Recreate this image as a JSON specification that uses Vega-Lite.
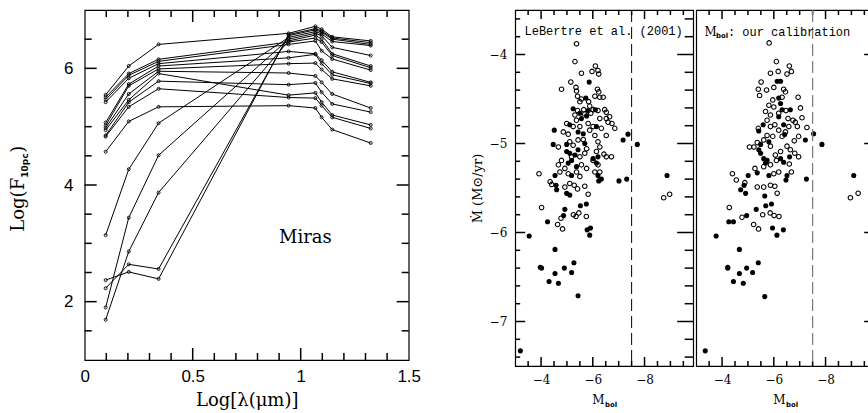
{
"$schema": "https://vega.github.io/schema/vega-lite/v6.json",
"background": "white",
"padding": {"left": 8.7, "top": 8, "right": 0, "bottom": 0},
"spacing": 48.5,
"config": {"view": {"stroke": "black", "strokeWidth": 1.2}, "axis": {"domain": false, "grid": false, "ticks": false, "labelColor": "black", "titleColor": "black", "labelFlush": false, "labelOverlap": false, "labelBound": false}},
"resolve": {"scale": {"x": "independent", "y": "independent"}},
"datasets": {
"mv": [
{"v":0.1,"a":1,"b":1.12},{"v":0.1,"a":7,"b":6.88},{"v":0.2,"a":1,"b":1.12},{"v":0.2,"a":7,"b":6.88},{"v":0.3,"a":1,"b":1.12},{"v":0.3,"a":7,"b":6.88},{"v":0.4,"a":1,"b":1.12},{"v":0.4,"a":7,"b":6.88},
{"v":0.5,"a":1,"b":1.206},{"v":0.5,"a":7,"b":6.794},
{"v":0.6,"a":1,"b":1.12},{"v":0.6,"a":7,"b":6.88},{"v":0.7,"a":1,"b":1.12},{"v":0.7,"a":7,"b":6.88},{"v":0.8,"a":1,"b":1.12},{"v":0.8,"a":7,"b":6.88},{"v":0.9,"a":1,"b":1.12},{"v":0.9,"a":7,"b":6.88},
{"v":1.0,"a":1,"b":1.206},{"v":1.0,"a":7,"b":6.794},
{"v":1.1,"a":1,"b":1.12},{"v":1.1,"a":7,"b":6.88},{"v":1.2,"a":1,"b":1.12},{"v":1.2,"a":7,"b":6.88},{"v":1.3,"a":1,"b":1.12},{"v":1.3,"a":7,"b":6.88},{"v":1.4,"a":1,"b":1.12},{"v":1.4,"a":7,"b":6.88}
],
"mh": [
{"v":1.5,"a":0,"b":0.0324},{"v":1.5,"a":1.5,"b":1.4676},
{"v":2,"a":0,"b":0.0556},{"v":2,"a":1.5,"b":1.4444},
{"v":2.5,"a":0,"b":0.0324},{"v":2.5,"a":1.5,"b":1.4676},{"v":3,"a":0,"b":0.0324},{"v":3,"a":1.5,"b":1.4676},{"v":3.5,"a":0,"b":0.0324},{"v":3.5,"a":1.5,"b":1.4676},
{"v":4,"a":0,"b":0.0556},{"v":4,"a":1.5,"b":1.4444},
{"v":4.5,"a":0,"b":0.0324},{"v":4.5,"a":1.5,"b":1.4676},{"v":5,"a":0,"b":0.0324},{"v":5,"a":1.5,"b":1.4676},{"v":5.5,"a":0,"b":0.0324},{"v":5.5,"a":1.5,"b":1.4676},
{"v":6,"a":0,"b":0.0556},{"v":6,"a":1.5,"b":1.4444},
{"v":6.5,"a":0,"b":0.0324},{"v":6.5,"a":1.5,"b":1.4676}
],
"rv": [
{"v":-3.5,"a":-7.5,"b":-7.444},{"v":-3.5,"a":-3.5,"b":-3.556},
{"v":-4,"a":-7.5,"b":-7.399},{"v":-4,"a":-3.5,"b":-3.601},
{"v":-4.5,"a":-7.5,"b":-7.444},{"v":-4.5,"a":-3.5,"b":-3.556},{"v":-5,"a":-7.5,"b":-7.444},{"v":-5,"a":-3.5,"b":-3.556},{"v":-5.5,"a":-7.5,"b":-7.444},{"v":-5.5,"a":-3.5,"b":-3.556},
{"v":-6,"a":-7.5,"b":-7.399},{"v":-6,"a":-3.5,"b":-3.601},
{"v":-6.5,"a":-7.5,"b":-7.444},{"v":-6.5,"a":-3.5,"b":-3.556},{"v":-7,"a":-7.5,"b":-7.444},{"v":-7,"a":-3.5,"b":-3.556},{"v":-7.5,"a":-7.5,"b":-7.444},{"v":-7.5,"a":-3.5,"b":-3.556},
{"v":-8,"a":-7.5,"b":-7.399},{"v":-8,"a":-3.5,"b":-3.601},
{"v":-8.5,"a":-7.5,"b":-7.444},{"v":-8.5,"a":-3.5,"b":-3.556},{"v":-9,"a":-7.5,"b":-7.444},{"v":-9,"a":-3.5,"b":-3.556},{"v":-9.5,"a":-7.5,"b":-7.444},{"v":-9.5,"a":-3.5,"b":-3.556}
],
"rh1": [
{"v":-3.6,"a":-3,"b":-3.1933},{"v":-3.6,"a":-9.88,"b":-9.5515},{"v":-3.8,"a":-3,"b":-3.1933},{"v":-3.8,"a":-9.88,"b":-9.5515},
{"v":-4,"a":-3,"b":-3.3865},{"v":-4,"a":-9.88,"b":-9.2616},
{"v":-4.2,"a":-3,"b":-3.1933},{"v":-4.2,"a":-9.88,"b":-9.5515},{"v":-4.4,"a":-3,"b":-3.1933},{"v":-4.4,"a":-9.88,"b":-9.5515},{"v":-4.6,"a":-3,"b":-3.1933},{"v":-4.6,"a":-9.88,"b":-9.5515},{"v":-4.8,"a":-3,"b":-3.1933},{"v":-4.8,"a":-9.88,"b":-9.5515},
{"v":-5,"a":-3,"b":-3.3865},{"v":-5,"a":-9.88,"b":-9.2616},
{"v":-5.2,"a":-3,"b":-3.1933},{"v":-5.2,"a":-9.88,"b":-9.5515},{"v":-5.4,"a":-3,"b":-3.1933},{"v":-5.4,"a":-9.88,"b":-9.5515},{"v":-5.6,"a":-3,"b":-3.1933},{"v":-5.6,"a":-9.88,"b":-9.5515},{"v":-5.8,"a":-3,"b":-3.1933},{"v":-5.8,"a":-9.88,"b":-9.5515},
{"v":-6,"a":-3,"b":-3.3865},{"v":-6,"a":-9.88,"b":-9.2616},
{"v":-6.2,"a":-3,"b":-3.1933},{"v":-6.2,"a":-9.88,"b":-9.5515},{"v":-6.4,"a":-3,"b":-3.1933},{"v":-6.4,"a":-9.88,"b":-9.5515},{"v":-6.6,"a":-3,"b":-3.1933},{"v":-6.6,"a":-9.88,"b":-9.5515},{"v":-6.8,"a":-3,"b":-3.1933},{"v":-6.8,"a":-9.88,"b":-9.5515},
{"v":-7,"a":-3,"b":-3.3865},{"v":-7,"a":-9.88,"b":-9.2616},
{"v":-7.2,"a":-3,"b":-3.1933},{"v":-7.2,"a":-9.88,"b":-9.5515},{"v":-7.4,"a":-3,"b":-3.1933},{"v":-7.4,"a":-9.88,"b":-9.5515}
],
"rh2": [
{"v":-3.6,"a":-9.88,"b":-9.6867},{"v":-3.8,"a":-9.88,"b":-9.6867},{"v":-4,"a":-9.88,"b":-9.4935},{"v":-4.2,"a":-9.88,"b":-9.6867},{"v":-4.4,"a":-9.88,"b":-9.6867},{"v":-4.6,"a":-9.88,"b":-9.6867},{"v":-4.8,"a":-9.88,"b":-9.6867},{"v":-5,"a":-9.88,"b":-9.4935},{"v":-5.2,"a":-9.88,"b":-9.6867},{"v":-5.4,"a":-9.88,"b":-9.6867},{"v":-5.6,"a":-9.88,"b":-9.6867},{"v":-5.8,"a":-9.88,"b":-9.6867},{"v":-6,"a":-9.88,"b":-9.4935},{"v":-6.2,"a":-9.88,"b":-9.6867},{"v":-6.4,"a":-9.88,"b":-9.6867},{"v":-6.6,"a":-9.88,"b":-9.6867},{"v":-6.8,"a":-9.88,"b":-9.6867},{"v":-7,"a":-9.88,"b":-9.4935},{"v":-7.2,"a":-9.88,"b":-9.6867},{"v":-7.4,"a":-9.88,"b":-9.6867}
],
"miras": [
{"c":"F","lx":0.097,"ly":5.545},{"c":"F","lx":0.204,"ly":6.04},{"c":"F","lx":0.342,"ly":6.41},{"c":"F","lx":0.944,"ly":6.60},{"c":"F","lx":1.068,"ly":6.72},{"c":"F","lx":1.097,"ly":6.67},{"c":"F","lx":1.146,"ly":6.54},{"c":"F","lx":1.324,"ly":6.47},
{"c":"E","lx":0.097,"ly":2.37},{"c":"E","lx":0.204,"ly":2.51},{"c":"E","lx":0.342,"ly":2.39},{"c":"E","lx":0.944,"ly":6.58},{"c":"E","lx":1.068,"ly":6.68},{"c":"E","lx":1.097,"ly":6.64},{"c":"E","lx":1.146,"ly":6.52},{"c":"E","lx":1.324,"ly":6.44},
{"c":"D","lx":0.097,"ly":2.23},{"c":"D","lx":0.204,"ly":2.64},{"c":"D","lx":0.342,"ly":2.56},{"c":"D","lx":0.944,"ly":6.56},{"c":"D","lx":1.068,"ly":6.66},{"c":"D","lx":1.097,"ly":6.62},{"c":"D","lx":1.146,"ly":6.50},{"c":"D","lx":1.324,"ly":6.41},
{"c":"A","lx":0.097,"ly":3.14},{"c":"A","lx":0.204,"ly":4.27},{"c":"A","lx":0.342,"ly":5.06},{"c":"A","lx":0.944,"ly":6.53},{"c":"A","lx":1.068,"ly":6.63},{"c":"A","lx":1.097,"ly":6.59},{"c":"A","lx":1.146,"ly":6.46},{"c":"A","lx":1.324,"ly":6.39},
{"c":"B","lx":0.097,"ly":1.90},{"c":"B","lx":0.204,"ly":3.44},{"c":"B","lx":0.342,"ly":4.51},{"c":"B","lx":0.944,"ly":6.50},{"c":"B","lx":1.068,"ly":6.60},{"c":"B","lx":1.097,"ly":6.56},{"c":"B","lx":1.146,"ly":6.36},{"c":"B","lx":1.324,"ly":6.22},
{"c":"C","lx":0.097,"ly":1.69},{"c":"C","lx":0.204,"ly":2.86},{"c":"C","lx":0.342,"ly":3.87},{"c":"C","lx":0.944,"ly":6.47},{"c":"C","lx":1.068,"ly":6.57},{"c":"C","lx":1.097,"ly":6.50},{"c":"C","lx":1.146,"ly":6.25},{"c":"C","lx":1.324,"ly":6.04},
{"c":"G","lx":0.097,"ly":5.505},{"c":"G","lx":0.204,"ly":5.91},{"c":"G","lx":0.342,"ly":6.155},{"c":"G","lx":0.944,"ly":6.45},{"c":"G","lx":1.068,"ly":6.52},{"c":"G","lx":1.097,"ly":6.45},{"c":"G","lx":1.146,"ly":6.22},{"c":"G","lx":1.324,"ly":6.01},
{"c":"H","lx":0.097,"ly":5.465},{"c":"H","lx":0.204,"ly":5.88},{"c":"H","lx":0.342,"ly":6.12},{"c":"H","lx":0.944,"ly":6.41},{"c":"H","lx":1.068,"ly":6.47},{"c":"H","lx":1.097,"ly":6.30},{"c":"H","lx":1.146,"ly":6.16},{"c":"H","lx":1.324,"ly":5.97},
{"c":"I","lx":0.097,"ly":5.42},{"c":"I","lx":0.204,"ly":5.83},{"c":"I","lx":0.342,"ly":6.08},{"c":"I","lx":0.944,"ly":6.29},{"c":"I","lx":1.068,"ly":6.25},{"c":"I","lx":1.097,"ly":6.14},{"c":"I","lx":1.146,"ly":5.94},{"c":"I","lx":1.324,"ly":5.76},
{"c":"J","lx":0.097,"ly":5.07},{"c":"J","lx":0.204,"ly":5.73},{"c":"J","lx":0.342,"ly":6.04},{"c":"J","lx":0.944,"ly":6.18},{"c":"J","lx":1.068,"ly":6.24},{"c":"J","lx":1.097,"ly":6.08},{"c":"J","lx":1.146,"ly":5.89},{"c":"J","lx":1.324,"ly":5.74},
{"c":"K","lx":0.097,"ly":5.02},{"c":"K","lx":0.204,"ly":5.70},{"c":"K","lx":0.342,"ly":5.99},{"c":"K","lx":0.944,"ly":6.08},{"c":"K","lx":1.068,"ly":6.09},{"c":"K","lx":1.097,"ly":5.98},{"c":"K","lx":1.146,"ly":5.82},{"c":"K","lx":1.324,"ly":5.70},
{"c":"L","lx":0.097,"ly":4.98},{"c":"L","lx":0.204,"ly":5.56},{"c":"L","lx":0.342,"ly":5.95},{"c":"L","lx":0.944,"ly":5.92},{"c":"L","lx":1.068,"ly":5.87},{"c":"L","lx":1.097,"ly":5.76},{"c":"L","lx":1.146,"ly":5.56},{"c":"L","lx":1.324,"ly":5.32},
{"c":"M","lx":0.097,"ly":4.94},{"c":"M","lx":0.204,"ly":5.46},{"c":"M","lx":0.342,"ly":5.91},{"c":"M","lx":0.944,"ly":5.54},{"c":"M","lx":1.068,"ly":5.58},{"c":"M","lx":1.097,"ly":5.42},{"c":"M","lx":1.146,"ly":5.20},{"c":"M","lx":1.324,"ly":5.03},
{"c":"N","lx":0.097,"ly":4.85},{"c":"N","lx":0.204,"ly":5.42},{"c":"N","lx":0.342,"ly":5.78},{"c":"N","lx":0.944,"ly":5.72},{"c":"N","lx":1.068,"ly":5.75},{"c":"N","lx":1.097,"ly":5.59},{"c":"N","lx":1.146,"ly":5.39},{"c":"N","lx":1.324,"ly":5.25},
{"c":"O","lx":0.097,"ly":4.83},{"c":"O","lx":0.204,"ly":5.34},{"c":"O","lx":0.342,"ly":5.65},{"c":"O","lx":0.944,"ly":5.50},{"c":"O","lx":1.068,"ly":5.49},{"c":"O","lx":1.097,"ly":5.36},{"c":"O","lx":1.146,"ly":5.16},{"c":"O","lx":1.324,"ly":4.97},
{"c":"P","lx":0.097,"ly":4.57},{"c":"P","lx":0.204,"ly":5.09},{"c":"P","lx":0.342,"ly":5.34},{"c":"P","lx":0.944,"ly":5.36},{"c":"P","lx":1.068,"ly":5.32},{"c":"P","lx":1.097,"ly":5.16},{"c":"P","lx":1.146,"ly":4.95},{"c":"P","lx":1.324,"ly":4.72}
],
"lb": [
{"x":-5.37,"y":-3.88,"t":"o"},
{"x":-5.31,"y":-4.08,"t":"o"},{"x":-6.10,"y":-4.13,"t":"o"},{"x":-5.56,"y":-4.21,"t":"o"},{"x":-5.97,"y":-4.19,"t":"o"},{"x":-6.20,"y":-4.18,"t":"o"},{"x":-6.23,"y":-4.22,"t":"o"},{"x":-5.86,"y":-4.31,"t":"f"},{"x":-5.15,"y":-4.31,"t":"o"},{"x":-4.79,"y":-4.39,"t":"o"},{"x":-5.35,"y":-4.37,"t":"o"},{"x":-5.37,"y":-4.41,"t":"o"},{"x":-6.18,"y":-4.39,"t":"o"},{"x":-6.23,"y":-4.42,"t":"o"},{"x":-6.08,"y":-4.47,"t":"o"},{"x":-6.40,"y":-4.48,"t":"o"},{"x":-6.27,"y":-4.48,"t":"o"},{"x":-5.41,"y":-4.47,"t":"o"},{"x":-5.56,"y":-4.50,"t":"o"},
{"x":-5.50,"y":-4.53,"t":"o"},{"x":-5.73,"y":-4.49,"t":"f"},{"x":-5.84,"y":-4.53,"t":"o"},{"x":-5.88,"y":-4.58,"t":"o"},{"x":-5.24,"y":-4.61,"t":"f"},{"x":-5.41,"y":-4.63,"t":"o"},{"x":-5.65,"y":-4.62,"t":"o"},{"x":-5.82,"y":-4.63,"t":"f"},{"x":-6.01,"y":-4.62,"t":"o"},{"x":-6.10,"y":-4.62,"t":"f"},{"x":-6.20,"y":-4.63,"t":"o"},{"x":-6.46,"y":-4.62,"t":"o"},{"x":-6.52,"y":-4.65,"t":"o"},
{"x":-5.31,"y":-4.68,"t":"o"},{"x":-5.50,"y":-4.66,"t":"f"},{"x":-5.69,"y":-4.67,"t":"o"},{"x":-5.76,"y":-4.69,"t":"f"},{"x":-5.92,"y":-4.66,"t":"o"},{"x":-6.27,"y":-4.72,"t":"o"},{"x":-6.52,"y":-4.72,"t":"o"},{"x":-6.65,"y":-4.70,"t":"o"},{"x":-5.56,"y":-4.72,"t":"f"},{"x":-5.37,"y":-4.74,"t":"o"},
{"x":-4.99,"y":-4.775,"t":"o"},{"x":-5.11,"y":-4.79,"t":"f"},{"x":-5.24,"y":-4.81,"t":"o"},{"x":-5.50,"y":-4.81,"t":"o"},{"x":-5.82,"y":-4.775,"t":"o"},{"x":-6.01,"y":-4.81,"t":"o"},{"x":-6.14,"y":-4.81,"t":"f"},{"x":-6.33,"y":-4.83,"t":"o"},{"x":-6.59,"y":-4.76,"t":"o"},{"x":-6.74,"y":-4.775,"t":"o"},{"x":-6.85,"y":-4.83,"t":"o"},{"x":-4.51,"y":-4.85,"t":"f"},{"x":-4.86,"y":-4.87,"t":"o"},{"x":-5.05,"y":-4.895,"t":"o"},{"x":-5.43,"y":-4.87,"t":"f"},{"x":-5.63,"y":-4.89,"t":"f"},{"x":-5.88,"y":-4.85,"t":"o"},{"x":-6.08,"y":-4.91,"t":"o"},{"x":-6.52,"y":-4.91,"t":"o"},
{"x":-4.47,"y":-5.01,"t":"f"},{"x":-4.67,"y":-5.04,"t":"o"},{"x":-4.99,"y":-5.01,"t":"f"},{"x":-5.11,"y":-4.98,"t":"o"},{"x":-5.24,"y":-5.02,"t":"o"},{"x":-5.43,"y":-4.96,"t":"o"},{"x":-5.63,"y":-4.955,"t":"o"},{"x":-5.69,"y":-5.00,"t":"f"},{"x":-5.76,"y":-5.06,"t":"o"},{"x":-6.20,"y":-4.98,"t":"o"},{"x":-6.27,"y":-5.04,"t":"o"},{"x":-7.17,"y":-4.96,"t":"f"},{"x":-7.36,"y":-4.895,"t":"f"},{"x":-7.72,"y":-5.01,"t":"f"},
{"x":-4.99,"y":-5.09,"t":"f"},{"x":-5.11,"y":-5.11,"t":"f"},{"x":-5.18,"y":-5.15,"t":"o"},{"x":-5.31,"y":-5.13,"t":"f"},{"x":-5.43,"y":-5.07,"t":"f"},{"x":-5.50,"y":-5.15,"t":"o"},{"x":-5.69,"y":-5.11,"t":"o"},{"x":-6.01,"y":-5.17,"t":"f"},{"x":-6.20,"y":-5.15,"t":"f"},{"x":-6.43,"y":-5.12,"t":"o"},{"x":-6.52,"y":-5.15,"t":"o"},{"x":-6.72,"y":-5.15,"t":"o"},{"x":-6.14,"y":-5.09,"t":"o"},
{"x":-4.67,"y":-5.24,"t":"o"},{"x":-4.79,"y":-5.19,"t":"o"},{"x":-5.05,"y":-5.22,"t":"f"},{"x":-5.18,"y":-5.19,"t":"f"},{"x":-5.37,"y":-5.26,"t":"f"},{"x":-5.56,"y":-5.24,"t":"o"},{"x":-5.76,"y":-5.28,"t":"o"},{"x":-6.01,"y":-5.19,"t":"o"},{"x":-6.14,"y":-5.22,"t":"f"},{"x":-6.20,"y":-5.24,"t":"o"},{"x":-4.92,"y":-5.28,"t":"o"},
{"x":-3.92,"y":-5.34,"t":"o"},{"x":-4.54,"y":-5.36,"t":"f"},{"x":-4.73,"y":-5.32,"t":"o"},{"x":-5.05,"y":-5.34,"t":"o"},{"x":-5.18,"y":-5.36,"t":"f"},{"x":-5.37,"y":-5.32,"t":"o"},{"x":-5.50,"y":-5.37,"t":"o"},{"x":-6.08,"y":-5.32,"t":"o"},{"x":-6.20,"y":-5.36,"t":"f"},{"x":-6.23,"y":-5.42,"t":"f"},{"x":-6.33,"y":-5.40,"t":"f"},{"x":-7.01,"y":-5.42,"t":"f"},{"x":-7.31,"y":-5.40,"t":"f"},{"x":-4.35,"y":-5.43,"t":"o"},{"x":-4.41,"y":-5.46,"t":"o"},{"x":-6.27,"y":-5.32,"t":"o"},
{"x":-4.58,"y":-5.47,"t":"f"},{"x":-4.60,"y":-5.52,"t":"f"},{"x":-4.92,"y":-5.49,"t":"o"},{"x":-5.11,"y":-5.45,"t":"o"},{"x":-5.28,"y":-5.47,"t":"o"},{"x":-5.41,"y":-5.51,"t":"o"},{"x":-4.99,"y":-5.56,"t":"f"},{"x":-5.11,"y":-5.58,"t":"f"},{"x":-5.69,"y":-5.48,"t":"o"},{"x":-5.82,"y":-5.57,"t":"o"},
{"x":-8.87,"y":-5.36,"t":"f"},{"x":-8.74,"y":-5.61,"t":"o"},{"x":-8.97,"y":-5.57,"t":"o"},
{"x":-4.02,"y":-5.72,"t":"o"},{"x":-4.92,"y":-5.74,"t":"f"},{"x":-5.52,"y":-5.70,"t":"f"},{"x":-5.75,"y":-5.68,"t":"f"},{"x":-5.25,"y":-5.80,"t":"o"},{"x":-5.35,"y":-5.82,"t":"o"},{"x":-5.46,"y":-5.78,"t":"o"},{"x":-5.75,"y":-5.82,"t":"o"},{"x":-4.87,"y":-5.81,"t":"f"},{"x":-4.77,"y":-5.84,"t":"o"},{"x":-4.25,"y":-5.88,"t":"f"},{"x":-4.64,"y":-5.91,"t":"o"},{"x":-4.83,"y":-5.96,"t":"o"},{"x":-5.78,"y":-5.97,"t":"f"},{"x":-5.91,"y":-5.95,"t":"f"},{"x":-5.88,"y":-6.03,"t":"f"},{"x":-3.54,"y":-6.04,"t":"f"},{"x":-4.54,"y":-6.19,"t":"f"},{"x":-3.97,"y":-6.39,"t":"f"},{"x":-4.02,"y":-6.40,"t":"f"},{"x":-5.27,"y":-6.34,"t":"f"},{"x":-4.90,"y":-6.40,"t":"f"},{"x":-4.54,"y":-6.46,"t":"f"},{"x":-5.18,"y":-6.45,"t":"f"},{"x":-4.31,"y":-6.55,"t":"f"},{"x":-4.67,"y":-6.57,"t":"f"},{"x":-5.43,"y":-6.71,"t":"f"},{"x":-3.20,"y":-7.33,"t":"f"}
],
"cal": [
{"x":-5.82,"y":-3.87,"t":"o"},
{"x":-6.10,"y":-4.08,"t":"o"},{"x":-6.60,"y":-4.13,"t":"o"},{"x":-5.87,"y":-4.21,"t":"o"},{"x":-6.17,"y":-4.19,"t":"o"},{"x":-6.51,"y":-4.22,"t":"o"},{"x":-6.68,"y":-4.19,"t":"o"},{"x":-6.13,"y":-4.30,"t":"f"},{"x":-6.26,"y":-4.30,"t":"f"},{"x":-5.51,"y":-4.31,"t":"o"},{"x":-5.40,"y":-4.39,"t":"o"},{"x":-5.45,"y":-4.46,"t":"o"},{"x":-5.72,"y":-4.40,"t":"o"},{"x":-6.00,"y":-4.37,"t":"o"},{"x":-6.38,"y":-4.39,"t":"o"},{"x":-6.45,"y":-4.42,"t":"o"},{"x":-6.32,"y":-4.48,"t":"o"},{"x":-6.94,"y":-4.48,"t":"o"},{"x":-5.96,"y":-4.51,"t":"o"},{"x":-6.19,"y":-4.49,"t":"f"},
{"x":-5.81,"y":-4.57,"t":"o"},{"x":-6.00,"y":-4.59,"t":"o"},{"x":-6.26,"y":-4.55,"t":"f"},{"x":-6.32,"y":-4.62,"t":"f"},{"x":-6.47,"y":-4.63,"t":"o"},{"x":-6.64,"y":-4.62,"t":"f"},{"x":-7.03,"y":-4.60,"t":"o"},{"x":-5.68,"y":-4.64,"t":"o"},{"x":-5.87,"y":-4.68,"t":"o"},{"x":-6.19,"y":-4.66,"t":"o"},{"x":-6.19,"y":-4.70,"t":"f"},{"x":-6.55,"y":-4.72,"t":"o"},{"x":-6.74,"y":-4.74,"t":"o"},{"x":-7.09,"y":-4.71,"t":"o"},{"x":-6.83,"y":-4.76,"t":"o"},{"x":-5.74,"y":-4.74,"t":"o"},
{"x":-5.59,"y":-4.79,"t":"f"},{"x":-5.87,"y":-4.81,"t":"o"},{"x":-6.04,"y":-4.79,"t":"o"},{"x":-6.38,"y":-4.79,"t":"f"},{"x":-6.19,"y":-4.85,"t":"o"},{"x":-6.58,"y":-4.81,"t":"o"},{"x":-6.91,"y":-4.81,"t":"o"},{"x":-7.28,"y":-4.82,"t":"o"},{"x":-7.54,"y":-4.89,"t":"f"},{"x":-7.22,"y":-4.96,"t":"f"},{"x":-6.96,"y":-4.92,"t":"o"},{"x":-6.79,"y":-4.97,"t":"o"},{"x":-6.45,"y":-4.87,"t":"o"},{"x":-6.42,"y":-4.90,"t":"f"},{"x":-6.32,"y":-4.92,"t":"o"},{"x":-5.96,"y":-4.92,"t":"o"},{"x":-5.74,"y":-4.91,"t":"o"},{"x":-5.42,"y":-4.86,"t":"f"},{"x":-5.40,"y":-4.83,"t":"o"},
{"x":-5.36,"y":-4.99,"t":"o"},{"x":-5.49,"y":-5.01,"t":"f"},{"x":-5.61,"y":-4.96,"t":"o"},{"x":-5.81,"y":-4.98,"t":"f"},{"x":-5.87,"y":-5.03,"t":"o"},{"x":-6.51,"y":-5.03,"t":"o"},{"x":-6.64,"y":-5.07,"t":"o"},{"x":-6.81,"y":-5.11,"t":"o"},{"x":-6.96,"y":-5.15,"t":"o"},{"x":-6.61,"y":-5.15,"t":"f"},{"x":-5.06,"y":-5.04,"t":"o"},{"x":-5.23,"y":-5.04,"t":"o"},{"x":-5.42,"y":-5.07,"t":"f"},{"x":-5.49,"y":-5.11,"t":"f"},{"x":-5.61,"y":-5.17,"t":"f"},{"x":-5.74,"y":-5.19,"t":"f"},{"x":-5.68,"y":-5.22,"t":"f"},{"x":-5.87,"y":-5.24,"t":"o"},{"x":-6.06,"y":-5.13,"t":"o"},{"x":-6.26,"y":-5.09,"t":"o"},{"x":-6.10,"y":-5.19,"t":"o"},{"x":-6.26,"y":-5.17,"t":"f"},{"x":-6.38,"y":-5.21,"t":"f"},{"x":-6.60,"y":-5.23,"t":"o"},
{"x":-5.27,"y":-5.28,"t":"o"},{"x":-5.36,"y":-5.33,"t":"f"},{"x":-5.61,"y":-5.26,"t":"o"},{"x":-5.81,"y":-5.36,"t":"f"},{"x":-6.00,"y":-5.34,"t":"o"},{"x":-6.19,"y":-5.32,"t":"o"},{"x":-6.51,"y":-5.36,"t":"f"},{"x":-6.68,"y":-5.32,"t":"o"},{"x":-4.40,"y":-5.34,"t":"o"},{"x":-5.01,"y":-5.36,"t":"f"},{"x":-4.55,"y":-5.41,"t":"o"},{"x":-4.88,"y":-5.44,"t":"o"},{"x":-4.85,"y":-5.47,"t":"f"},{"x":-4.72,"y":-5.52,"t":"f"},{"x":-4.91,"y":-5.56,"t":"f"},{"x":-5.36,"y":-5.49,"t":"o"},{"x":-5.61,"y":-5.49,"t":"o"},{"x":-5.87,"y":-5.47,"t":"o"},{"x":-6.04,"y":-5.48,"t":"o"},{"x":-6.47,"y":-5.41,"t":"f"},{"x":-7.26,"y":-5.40,"t":"f"},{"x":-7.86,"y":-5.01,"t":"f"},{"x":-6.13,"y":-5.56,"t":"o"},{"x":-5.65,"y":-5.59,"t":"f"},
{"x":-9.09,"y":-5.36,"t":"f"},{"x":-8.96,"y":-5.61,"t":"o"},{"x":-9.26,"y":-5.56,"t":"o"},
{"x":-4.28,"y":-5.72,"t":"o"},{"x":-4.26,"y":-5.88,"t":"f"},{"x":-4.44,"y":-5.88,"t":"f"},{"x":-3.77,"y":-6.04,"t":"f"},{"x":-4.77,"y":-5.83,"t":"o"},{"x":-4.95,"y":-5.81,"t":"f"},{"x":-5.32,"y":-5.74,"t":"f"},{"x":-5.22,"y":-5.91,"t":"o"},{"x":-5.41,"y":-5.96,"t":"o"},{"x":-5.57,"y":-5.80,"t":"o"},{"x":-5.69,"y":-5.70,"t":"f"},{"x":-5.91,"y":-5.68,"t":"f"},{"x":-5.86,"y":-5.78,"t":"o"},{"x":-6.01,"y":-5.81,"t":"o"},{"x":-6.20,"y":-5.82,"t":"o"},{"x":-5.95,"y":-5.95,"t":"f"},{"x":-6.12,"y":-6.03,"t":"f"},{"x":-6.37,"y":-5.97,"t":"f"},{"x":-4.67,"y":-6.19,"t":"f"},{"x":-4.22,"y":-6.39,"t":"f"},{"x":-4.22,"y":-6.40,"t":"f"},{"x":-5.40,"y":-6.34,"t":"f"},{"x":-4.95,"y":-6.40,"t":"f"},{"x":-4.67,"y":-6.46,"t":"f"},{"x":-5.18,"y":-6.45,"t":"f"},{"x":-4.44,"y":-6.55,"t":"f"},{"x":-4.82,"y":-6.57,"t":"f"},{"x":-5.65,"y":-6.72,"t":"f"},{"x":-3.35,"y":-7.33,"t":"f"}
]
},
"hconcat": [
{
"width": 324, "height": 350,
"resolve": {"axis": {"x": "independent", "y": "independent"}},
"layer": [
{"data": {"name": "miras"},
 "mark": {"type": "line", "color": "black", "strokeWidth": 1},
 "encoding": {
  "x": {"field": "lx", "type": "quantitative", "scale": {"domain": [0, 1.5], "nice": false, "zero": false},
        "axis": {"orient": "bottom", "values": [0, 0.5, 1, 1.5], "format": "~g", "labelPadding": 8.5, "labelFont": "Liberation Sans", "labelFontSize": 17, "title": "Log[λ(μm)]", "titleFont": "DejaVu Serif", "titleFontSize": 18, "titleFontWeight": "normal", "titlePadding": 7}},
  "y": {"field": "ly", "type": "quantitative", "scale": {"domain": [1, 7], "nice": false, "zero": false},
        "axis": {"orient": "left", "values": [2, 4, 6], "format": "~g", "labelPadding": 11.7, "labelFont": "Liberation Sans", "labelFontSize": 17, "title": null}},
  "detail": {"field": "c"}
 }},
{"data": {"name": "miras"},
 "mark": {"type": "point", "shape": "circle", "filled": false, "color": "black", "size": 9, "strokeWidth": 0.9, "opacity": 1},
 "encoding": {
  "x": {"field": "lx", "type": "quantitative", "scale": {"domain": [0, 1.5], "nice": false, "zero": false}, "axis": null},
  "y": {"field": "ly", "type": "quantitative", "scale": {"domain": [1, 7], "nice": false, "zero": false}, "axis": null}
 }},
{"data": {"name": "mv"},
 "mark": {"type": "rule", "color": "black", "strokeWidth": 1.5},
 "encoding": {
  "x": {"field": "v", "type": "quantitative", "scale": {"domain": [0, 1.5], "nice": false, "zero": false}, "axis": null},
  "y": {"field": "a", "type": "quantitative", "scale": {"domain": [1, 7], "nice": false, "zero": false}, "axis": null},
  "y2": {"field": "b"}
 }},
{"data": {"name": "mh"},
 "mark": {"type": "rule", "color": "black", "strokeWidth": 1.5},
 "encoding": {
  "y": {"field": "v", "type": "quantitative", "scale": {"domain": [1, 7], "nice": false, "zero": false}, "axis": null},
  "x": {"field": "a", "type": "quantitative", "scale": {"domain": [0, 1.5], "nice": false, "zero": false}, "axis": null},
  "x2": {"field": "b"}
 }},
{"data": {"values": [{}]},
 "mark": {"type": "text", "text": "Miras", "font": "DejaVu Serif", "fontSize": 18, "align": "center", "baseline": "alphabetic", "color": "black", "clip": false},
 "encoding": {
  "x": {"datum": 1.022, "type": "quantitative", "scale": {"domain": [0, 1.5], "nice": false, "zero": false}, "axis": null},
  "y": {"datum": 3.0, "type": "quantitative", "scale": {"domain": [1, 7], "nice": false, "zero": false}, "axis": null}
 }},
{"data": {"values": [{}]},
 "mark": {"type": "text", "text": "Log(F", "font": "DejaVu Serif", "fontSize": 18, "angle": 270, "align": "left", "baseline": "alphabetic", "color": "black", "clip": false},
 "encoding": {
  "x": {"datum": -0.281, "type": "quantitative", "scale": {"domain": [0, 1.5], "nice": false, "zero": false}, "axis": null},
  "y": {"datum": 3.2, "type": "quantitative", "scale": {"domain": [1, 7], "nice": false, "zero": false}, "axis": null}
 }},
{"data": {"values": [{}]},
 "mark": {"type": "text", "text": "10pc", "font": "DejaVu Sans", "fontWeight": "bold", "fontSize": 9, "angle": 270, "align": "left", "baseline": "alphabetic", "dx": 54, "dy": 4, "color": "black", "clip": false},
 "encoding": {
  "x": {"datum": -0.281, "type": "quantitative", "scale": {"domain": [0, 1.5], "nice": false, "zero": false}, "axis": null},
  "y": {"datum": 3.2, "type": "quantitative", "scale": {"domain": [1, 7], "nice": false, "zero": false}, "axis": null}
 }},
{"data": {"values": [{}]},
 "mark": {"type": "text", "text": ")", "font": "DejaVu Serif", "fontSize": 18, "angle": 270, "align": "left", "baseline": "alphabetic", "dx": 79, "color": "black", "clip": false},
 "encoding": {
  "x": {"datum": -0.281, "type": "quantitative", "scale": {"domain": [0, 1.5], "nice": false, "zero": false}, "axis": null},
  "y": {"datum": 3.2, "type": "quantitative", "scale": {"domain": [1, 7], "nice": false, "zero": false}, "axis": null}
 }}
]
},
{
"spacing": 0,
"resolve": {"scale": {"x": "independent", "y": "independent"}},
"hconcat": [
{
"width": 178, "height": 356,
"resolve": {"axis": {"x": "independent", "y": "independent"}},
"layer": [
{"data": {"name": "lb"},
 "transform": [{"filter": "datum.t == 'o'"}],
 "mark": {"type": "point", "shape": "circle", "filled": false, "color": "black", "size": 21, "strokeWidth": 1.05, "opacity": 1},
 "encoding": {
  "x": {"field": "x", "type": "quantitative", "scale": {"domain": [-3, -9.88], "nice": false, "zero": false},
        "axis": {"orient": "bottom", "values": [-4, -6, -8], "format": "~g", "labelPadding": 9, "labelFont": "DejaVu Serif", "labelFontSize": 12, "title": null}},
  "y": {"field": "y", "type": "quantitative", "scale": {"domain": [-7.5, -3.5], "nice": false, "zero": false},
        "axis": {"orient": "left", "values": [-4, -5, -6, -7], "format": "~g", "labelPadding": 8.4, "labelFont": "DejaVu Serif", "labelFontSize": 12, "title": "Ṁ (M⊙/yr)", "titleFont": "DejaVu Serif", "titleFontSize": 13, "titleFontWeight": "normal", "titlePadding": 5}}
 }},
{"data": {"name": "lb"},
 "transform": [{"filter": "datum.t == 'f'"}],
 "mark": {"type": "circle", "color": "black", "size": 26, "opacity": 1},
 "encoding": {
  "x": {"field": "x", "type": "quantitative", "scale": {"domain": [-3, -9.88], "nice": false, "zero": false}, "axis": null},
  "y": {"field": "y", "type": "quantitative", "scale": {"domain": [-7.5, -3.5], "nice": false, "zero": false}, "axis": null}
 }},
{"data": {"name": "rv"},
 "mark": {"type": "rule", "color": "black", "strokeWidth": 1.5},
 "encoding": {
  "x": {"field": "v", "type": "quantitative", "scale": {"domain": [-3, -9.88], "nice": false, "zero": false}, "axis": null},
  "y": {"field": "a", "type": "quantitative", "scale": {"domain": [-7.5, -3.5], "nice": false, "zero": false}, "axis": null},
  "y2": {"field": "b"}
 }},
{"data": {"name": "rh1"},
 "mark": {"type": "rule", "color": "black", "strokeWidth": 1.5},
 "encoding": {
  "y": {"field": "v", "type": "quantitative", "scale": {"domain": [-7.5, -3.5], "nice": false, "zero": false}, "axis": null},
  "x": {"field": "a", "type": "quantitative", "scale": {"domain": [-3, -9.88], "nice": false, "zero": false}, "axis": null},
  "x2": {"field": "b"}
 }},
{"data": {"values": [{}]},
 "mark": {"type": "rule", "color": "black", "strokeWidth": 1, "strokeDash": [12, 5]},
 "encoding": {"x": {"datum": -7.5, "type": "quantitative", "scale": {"domain": [-3, -9.88], "nice": false, "zero": false}, "axis": null}}},
{"data": {"values": [{}]},
 "mark": {"type": "text", "text": "LeBertre et al. (2001)", "font": "Liberation Mono", "fontSize": 12, "align": "left", "baseline": "alphabetic", "color": "black", "clip": false},
 "encoding": {
  "x": {"datum": -3.36, "type": "quantitative", "scale": {"domain": [-3, -9.88], "nice": false, "zero": false}, "axis": null},
  "y": {"datum": -3.78, "type": "quantitative", "scale": {"domain": [-7.5, -3.5], "nice": false, "zero": false}, "axis": null}
 }},
{"data": {"values": [{}]},
 "mark": {"type": "text", "text": "M", "font": "DejaVu Serif", "fontSize": 12, "align": "right", "baseline": "alphabetic", "dy": 37.7, "color": "black", "clip": false},
 "encoding": {
  "x": {"datum": -6.45, "type": "quantitative", "scale": {"domain": [-3, -9.88], "nice": false, "zero": false}, "axis": null},
  "y": {"datum": -7.5, "type": "quantitative", "scale": {"domain": [-7.5, -3.5], "nice": false, "zero": false}, "axis": null}
 }},
{"data": {"values": [{}]},
 "mark": {"type": "text", "text": "bol", "font": "DejaVu Sans", "fontWeight": "bold", "fontSize": 7, "align": "left", "baseline": "alphabetic", "dx": 0.5, "dy": 41.5, "color": "black", "clip": false},
 "encoding": {
  "x": {"datum": -6.45, "type": "quantitative", "scale": {"domain": [-3, -9.88], "nice": false, "zero": false}, "axis": null},
  "y": {"datum": -7.5, "type": "quantitative", "scale": {"domain": [-7.5, -3.5], "nice": false, "zero": false}, "axis": null}
 }}
]
},
{
"width": 178, "height": 356,
"resolve": {"axis": {"x": "independent", "y": "independent"}},
"layer": [
{"data": {"name": "cal"},
 "transform": [{"filter": "datum.t == 'o'"}],
 "mark": {"type": "point", "shape": "circle", "filled": false, "color": "black", "size": 21, "strokeWidth": 1.05, "opacity": 1},
 "encoding": {
  "x": {"field": "x", "type": "quantitative", "scale": {"domain": [-3, -9.88], "nice": false, "zero": false},
        "axis": {"orient": "bottom", "values": [-4, -6, -8], "format": "~g", "labelPadding": 9, "labelFont": "DejaVu Serif", "labelFontSize": 12, "title": null}},
  "y": {"field": "y", "type": "quantitative", "scale": {"domain": [-7.5, -3.5], "nice": false, "zero": false}, "axis": null}
 }},
{"data": {"name": "cal"},
 "transform": [{"filter": "datum.t == 'f'"}],
 "mark": {"type": "circle", "color": "black", "size": 26, "opacity": 1},
 "encoding": {
  "x": {"field": "x", "type": "quantitative", "scale": {"domain": [-3, -9.88], "nice": false, "zero": false}, "axis": null},
  "y": {"field": "y", "type": "quantitative", "scale": {"domain": [-7.5, -3.5], "nice": false, "zero": false}, "axis": null}
 }},
{"data": {"name": "rv"},
 "mark": {"type": "rule", "color": "black", "strokeWidth": 1.5},
 "encoding": {
  "x": {"field": "v", "type": "quantitative", "scale": {"domain": [-3, -9.88], "nice": false, "zero": false}, "axis": null},
  "y": {"field": "a", "type": "quantitative", "scale": {"domain": [-7.5, -3.5], "nice": false, "zero": false}, "axis": null},
  "y2": {"field": "b"}
 }},
{"data": {"name": "rh2"},
 "mark": {"type": "rule", "color": "black", "strokeWidth": 1.5},
 "encoding": {
  "y": {"field": "v", "type": "quantitative", "scale": {"domain": [-7.5, -3.5], "nice": false, "zero": false}, "axis": null},
  "x": {"field": "a", "type": "quantitative", "scale": {"domain": [-3, -9.88], "nice": false, "zero": false}, "axis": null},
  "x2": {"field": "b"}
 }},
{"data": {"values": [{}]},
 "mark": {"type": "rule", "color": "#7a7a7a", "strokeWidth": 1.2, "strokeDash": [12, 5]},
 "encoding": {"x": {"datum": -7.5, "type": "quantitative", "scale": {"domain": [-3, -9.88], "nice": false, "zero": false}, "axis": null}}},
{"data": {"values": [{}]},
 "mark": {"type": "text", "text": "M", "font": "DejaVu Serif", "fontSize": 12, "align": "left", "baseline": "alphabetic", "color": "black", "clip": false},
 "encoding": {
  "x": {"datum": -3.32, "type": "quantitative", "scale": {"domain": [-3, -9.88], "nice": false, "zero": false}, "axis": null},
  "y": {"datum": -3.79, "type": "quantitative", "scale": {"domain": [-7.5, -3.5], "nice": false, "zero": false}, "axis": null}
 }},
{"data": {"values": [{}]},
 "mark": {"type": "text", "text": "bol", "font": "DejaVu Sans", "fontWeight": "bold", "fontSize": 7, "align": "left", "baseline": "alphabetic", "dx": 11.5, "dy": 2.5, "color": "black", "clip": false},
 "encoding": {
  "x": {"datum": -3.32, "type": "quantitative", "scale": {"domain": [-3, -9.88], "nice": false, "zero": false}, "axis": null},
  "y": {"datum": -3.79, "type": "quantitative", "scale": {"domain": [-7.5, -3.5], "nice": false, "zero": false}, "axis": null}
 }},
{"data": {"values": [{}]},
 "mark": {"type": "text", "text": ": our calibration", "font": "Liberation Mono", "fontSize": 12, "align": "left", "baseline": "alphabetic", "dx": 23.5, "color": "black", "clip": false},
 "encoding": {
  "x": {"datum": -3.32, "type": "quantitative", "scale": {"domain": [-3, -9.88], "nice": false, "zero": false}, "axis": null},
  "y": {"datum": -3.79, "type": "quantitative", "scale": {"domain": [-7.5, -3.5], "nice": false, "zero": false}, "axis": null}
 }},
{"data": {"values": [{}]},
 "mark": {"type": "text", "text": "M", "font": "DejaVu Serif", "fontSize": 12, "align": "right", "baseline": "alphabetic", "dy": 37.7, "color": "black", "clip": false},
 "encoding": {
  "x": {"datum": -6.45, "type": "quantitative", "scale": {"domain": [-3, -9.88], "nice": false, "zero": false}, "axis": null},
  "y": {"datum": -7.5, "type": "quantitative", "scale": {"domain": [-7.5, -3.5], "nice": false, "zero": false}, "axis": null}
 }},
{"data": {"values": [{}]},
 "mark": {"type": "text", "text": "bol", "font": "DejaVu Sans", "fontWeight": "bold", "fontSize": 7, "align": "left", "baseline": "alphabetic", "dx": 0.5, "dy": 41.5, "color": "black", "clip": false},
 "encoding": {
  "x": {"datum": -6.45, "type": "quantitative", "scale": {"domain": [-3, -9.88], "nice": false, "zero": false}, "axis": null},
  "y": {"datum": -7.5, "type": "quantitative", "scale": {"domain": [-7.5, -3.5], "nice": false, "zero": false}, "axis": null}
 }}
]
}
]
}
]
}
